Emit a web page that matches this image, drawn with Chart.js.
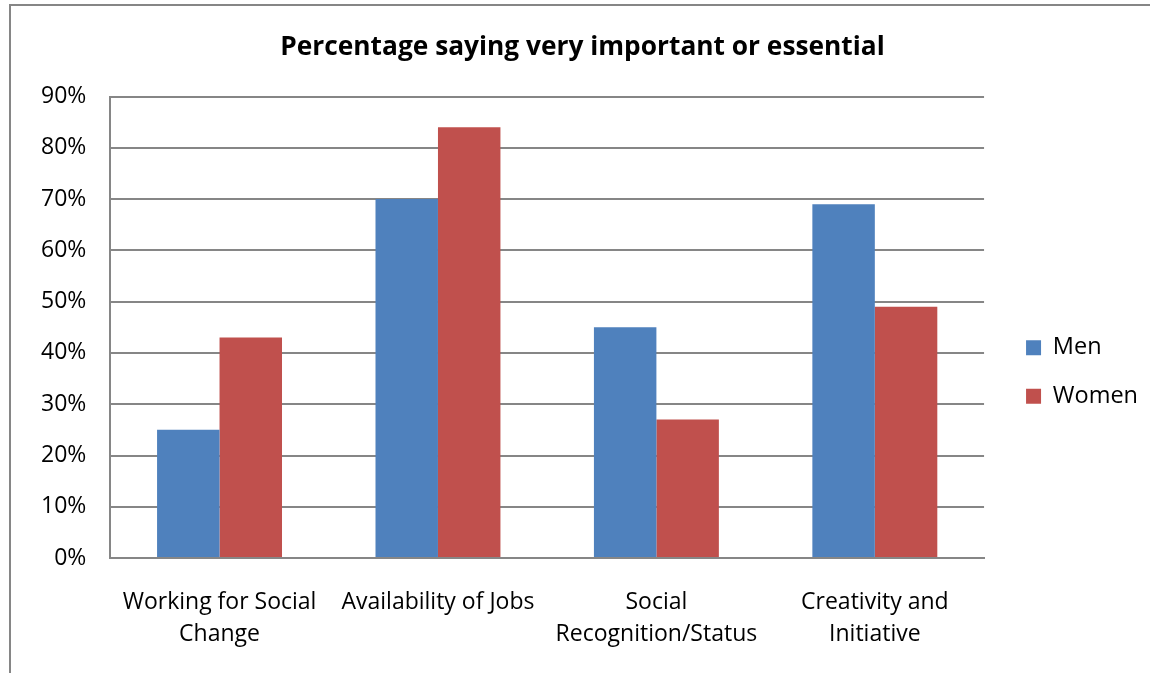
<!DOCTYPE html>
<html>
<head>
<meta charset="utf-8">
<script src="https://cdn.jsdelivr.net/npm/chart.js@4.4.0/dist/chart.umd.min.js"></script>
<style>
  body { margin: 0; background: #fff; }
  #frame { position: absolute; left: 9px; top: 4px; width: 1200px; height: 700px;
           border-left: 2px solid #868686; border-top: 2px solid #868686; }
  canvas { position: absolute; left: 0; top: 0; }
</style>
</head>
<body>
<div id="frame"></div>
<canvas id="chart" width="1150" height="673"></canvas>
<script>
const categories = [
  ['Working for Social', 'Change'],
  ['Availability of Jobs'],
  ['Social', 'Recognition/Status'],
  ['Creativity and', 'Initiative']
];
const men = [25, 70, 45, 69];
const women = [43, 84, 27, 49];
const yTicks = [0, 10, 20, 30, 40, 50, 60, 70, 80, 90];

const font = "'Open Sans', 'DejaVu Sans', sans-serif";
const grey = '#868686';

const ctx = document.getElementById('chart').getContext('2d');
new Chart(ctx, {
  type: 'bar',
  data: {
    labels: categories,
    datasets: [{
      label: 'Men',
      data: men,
      backgroundColor: '#4F81BD'
    }, {
      label: 'Women',
      data: women,
      backgroundColor: '#C0504D'
    }]
  },
  options: {
    responsive: false,
    animation: false,
    layout: { padding: { left: 17, right: 2, top: 20, bottom: 3 } },
    datasets: {
      bar: { categoryPercentage: 0.572, barPercentage: 1 }
    },
    plugins: {
      title: {
        display: true,
        text: 'Percentage saying very important or essential',
        color: '#000',
        font: { family: font, size: 26.3, weight: 'bold' },
        padding: { top: 12, bottom: 33 }
      },
      legend: {
        position: 'right',
        // empty title only pushes the legend entries down
        title: { display: true, text: ' ', font: { size: 10, lineHeight: 1 }, padding: { top: 44, bottom: 0 } },
        labels: {
          color: '#000',
          font: { family: font, size: 23.5 },
          boxWidth: 15,
          boxHeight: 15,
          padding: 25
        }
      },
      tooltip: { enabled: false }
    },
    scales: {
      x: {
        grid: { display: false },
        border: { display: true, color: grey, width: 2 },
        ticks: { color: '#000', font: { family: font, size: 23, lineHeight: 1.39 }, padding: 20, maxRotation: 0 }
      },
      y: {
        min: 0,
        max: 90,
        afterBuildTicks: axis => { axis.ticks = yTicks.map(v => ({ value: v })); },
        grid: { color: grey, lineWidth: 2, drawTicks: false },
        border: { display: true, color: grey, width: 2 },
        ticks: {
          color: '#000',
          font: { family: font, size: 23 },
          padding: 24,
          callback: v => v + '%'
        }
      },
      // blank spacer between the plot and the legend
      gap: {
        position: 'right',
        grid: { display: false },
        border: { display: false },
        ticks: { display: false },
        afterFit: axis => { axis.width = 17; }
      }
    }
  }
});
</script>
</body>
</html>
